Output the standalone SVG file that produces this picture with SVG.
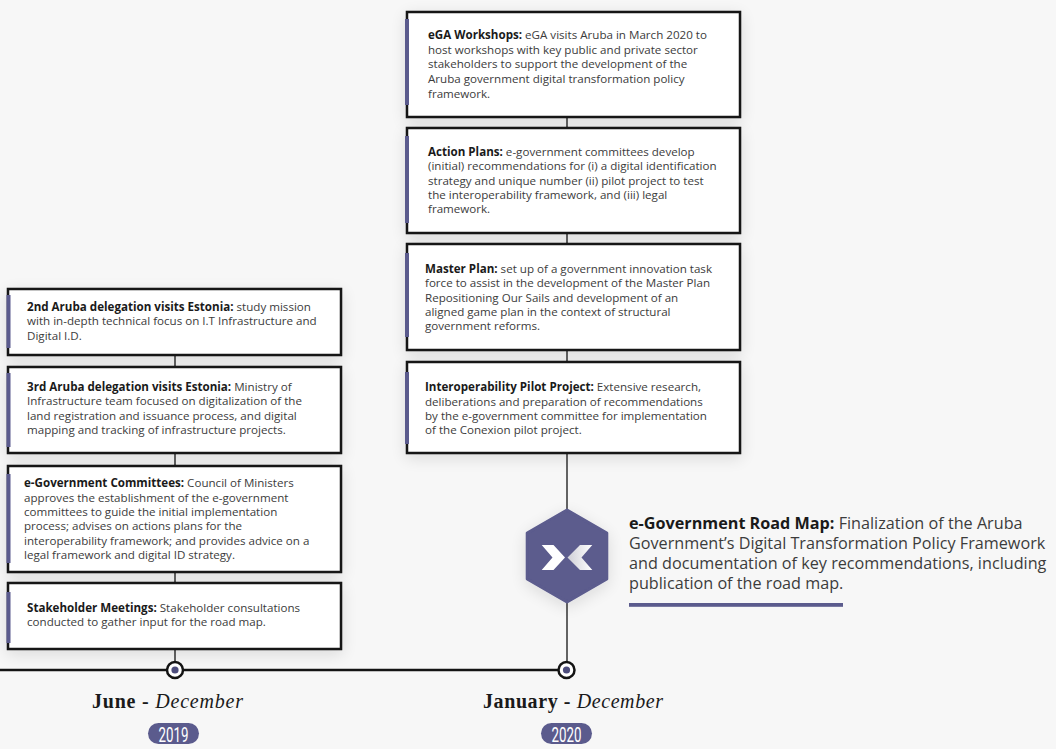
<svg xmlns="http://www.w3.org/2000/svg" width="1056" height="749" viewBox="0 0 1056 749">
<defs>
<filter id="sh" x="-20%" y="-30%" width="140%" height="160%">
<feGaussianBlur in="SourceAlpha" stdDeviation="8"/>
<feOffset dx="0" dy="4" result="o"/>
<feComponentTransfer><feFuncA type="linear" slope="0.12"/></feComponentTransfer>
<feMerge><feMergeNode/><feMergeNode in="SourceGraphic"/></feMerge>
</filter>
<linearGradient id="gr" x1="0" y1="0" x2="1" y2="0">
<stop offset="0" stop-color="#cfcfd6"/>
<stop offset="1" stop-color="#ffffff"/>
</linearGradient>
</defs>
<style>
.box{fill:#fff;stroke:#141414;stroke-width:2.5;filter:url(#sh)}
.bar{fill:#5b5b8d}
.t{font-family:"Open Sans","Liberation Sans",sans-serif;font-size:11.6px;fill:#3c3c3c}
.b{font-weight:700;fill:#1a1a1a}
.c{stroke:#141414;stroke-width:1.3;fill:none}
.tl{stroke:#141414;stroke-width:2.5;fill:none}
.dot{fill:#fff;stroke:#141414;stroke-width:2.5}
.in{fill:#4c4c7c}
.big{font-family:"Open Sans","Liberation Sans",sans-serif;font-size:16.2px;fill:#3c3c3c}
.lab{font-family:"Liberation Serif",serif;font-size:20px;fill:#1a1a1a}
.pill{fill:#5b5b8d}
.yr{font-family:Roboto,"Liberation Sans",sans-serif;font-size:20.5px;fill:#fff}
</style>
<rect x="0" y="0" width="1056" height="749" fill="#f7f7f7"/>

<g id="connectors">
<line class="c" x1="175" y1="355" x2="175" y2="367"/>
<line class="c" x1="175" y1="453" x2="175" y2="466"/>
<line class="c" x1="175" y1="572" x2="175" y2="583"/>
<line class="c" x1="175" y1="649" x2="175" y2="662"/>
<line class="c" x1="567" y1="117" x2="567" y2="128"/>
<line class="c" x1="567" y1="233" x2="567" y2="244"/>
<line class="c" x1="567" y1="350" x2="567" y2="362"/>
<line class="c" x1="567" y1="453" x2="567" y2="511"/>
<line class="c" x1="567" y1="601" x2="567" y2="662"/>
<line class="tl" x1="0" y1="670" x2="566" y2="670"/>
</g>

<g id="box-2nd-delegation">
<rect class="box" x="8" y="289" width="333" height="66"/>
<rect class="bar" x="6.5" y="295" width="4" height="53"/>
<text class="t" x="27" y="311"><tspan class="b">2nd Aruba delegation visits Estonia:</tspan> study mission</text>
<text class="t" x="27" y="325.3">with in-depth technical focus on I.T Infrastructure and</text>
<text class="t" x="27" y="339.8">Digital I.D.</text>
</g>

<g id="box-3rd-delegation">
<rect class="box" x="8" y="367" width="333" height="86"/>
<rect class="bar" x="6.5" y="373" width="4" height="74"/>
<text class="t" x="27" y="391.3"><tspan class="b">3rd Aruba delegation visits Estonia:</tspan> Ministry of</text>
<text class="t" x="27" y="405.3">Infrastructure team focused on digitalization of the</text>
<text class="t" x="27" y="419.8">land registration and issuance process, and digital</text>
<text class="t" x="27" y="434">mapping and tracking of infrastructure projects.</text>
</g>

<g id="box-committees">
<rect class="box" x="8" y="466" width="333" height="106"/>
<rect class="bar" x="6.5" y="474" width="4" height="89"/>
<text class="t" x="24" y="487.3"><tspan class="b">e-Government Committees:</tspan> Council of Ministers</text>
<text class="t" x="24" y="501.6">approves the establishment of the e-government</text>
<text class="t" x="24" y="515.9">committees to guide the initial implementation</text>
<text class="t" x="24" y="530.2">process; advises on actions plans for the</text>
<text class="t" x="24" y="544.5">interoperability framework; and provides advice on a</text>
<text class="t" x="24" y="558.8">legal framework and digital ID strategy.</text>
</g>

<g id="box-stakeholder">
<rect class="box" x="8" y="583" width="333" height="66"/>
<rect class="bar" x="6.5" y="592" width="4" height="51"/>
<text class="t" x="27" y="612.3"><tspan class="b">Stakeholder Meetings:</tspan> Stakeholder consultations</text>
<text class="t" x="27" y="625.8">conducted to gather input for the road map.</text>
</g>

<g id="box-ega">
<rect class="box" x="407" y="12" width="333" height="105"/>
<rect class="bar" x="405" y="19" width="4" height="86"/>
<text class="t" x="428" y="39.3"><tspan class="b">eGA Workshops:</tspan> eGA visits Aruba in March 2020 to</text>
<text class="t" x="428" y="53.8">host workshops with key public and private sector</text>
<text class="t" x="428" y="68.3">stakeholders to support the development of the</text>
<text class="t" x="428" y="82.8">Aruba government digital transformation policy</text>
<text class="t" x="428" y="97.6">framework.</text>
</g>

<g id="box-action">
<rect class="box" x="407" y="128" width="333" height="105"/>
<rect class="bar" x="405" y="136" width="4" height="87"/>
<text class="t" x="428" y="156.3"><tspan class="b">Action Plans:</tspan> e-government committees develop</text>
<text class="t" x="428" y="170.2">(initial) recommendations for (i) a digital identification</text>
<text class="t" x="428" y="184.5">strategy and unique number (ii) pilot project to test</text>
<text class="t" x="428" y="198.7">the interoperability framework, and (iii) legal</text>
<text class="t" x="428" y="213">framework.</text>
</g>

<g id="box-master">
<rect class="box" x="407" y="244" width="333" height="106"/>
<rect class="bar" x="405" y="253" width="4" height="84"/>
<text class="t" x="425" y="273.3"><tspan class="b">Master Plan:</tspan> set up of a government innovation task</text>
<text class="t" x="425" y="287.3">force to assist in the development of the Master Plan</text>
<text class="t" x="425" y="301.5">Repositioning Our Sails and development of an</text>
<text class="t" x="425" y="315.6">aligned game plan in the context of structural</text>
<text class="t" x="425" y="329.8">government reforms.</text>
</g>

<g id="box-pilot">
<rect class="box" x="407" y="362" width="333" height="91"/>
<rect class="bar" x="405" y="372" width="4" height="72"/>
<text class="t" x="425" y="391.3"><tspan class="b">Interoperability Pilot Project:</tspan> Extensive research,</text>
<text class="t" x="425" y="405.5">deliberations and preparation of recommendations</text>
<text class="t" x="425" y="419.8">by the e-government committee for implementation</text>
<text class="t" x="425" y="433.8">of the Conexion pilot project.</text>
</g>

<g id="roadmap">
<path d="M567 510 L606.8 533 L606.8 579 L567 602 L527.2 579 L527.2 533 Z" fill="#5b5b8d" stroke="#5b5b8d" stroke-width="3" stroke-linejoin="round" filter="url(#sh)"/>
<path d="M541.7 545 L553.5 545 L565 557.5 L553.5 570 L541.7 570 L552.5 557.5 Z" fill="#ffffff"/>
<path d="M592.3 545 L580 545 L567.5 557.5 L580 570 L592.3 570 L581.5 557.5 Z" fill="url(#gr)"/>
<text class="big" x="629" y="528.5"><tspan font-weight="700" fill="#1a1a1a">e-Government Road Map:</tspan> Finalization of the Aruba</text>
<text class="big" x="629" y="548.5">Government’s Digital Transformation Policy Framework</text>
<text class="big" x="629" y="568.5">and documentation of key recommendations, including</text>
<text class="big" x="629" y="588.5">publication of the road map.</text>
<rect x="629" y="603" width="214" height="3.8" fill="#5b5b8d"/>
</g>

<g id="year-2019">
<circle class="dot" cx="175" cy="670" r="8"/>
<circle class="in" cx="175" cy="670" r="3.6"/>
<text class="lab" x="92" y="708" textLength="151"><tspan font-weight="700">June - </tspan><tspan font-style="italic">December</tspan></text>
<rect class="pill" x="148" y="723" width="51" height="21" rx="10.5"/>
<text class="yr" x="173.5" y="741.5" text-anchor="middle" textLength="30" lengthAdjust="spacingAndGlyphs">2019</text>
</g>

<g id="year-2020">
<circle class="dot" cx="566.5" cy="670" r="8"/>
<circle class="in" cx="566.5" cy="670" r="3.6"/>
<text class="lab" x="483" y="708" textLength="180"><tspan font-weight="700">January - </tspan><tspan font-style="italic">December</tspan></text>
<rect class="pill" x="541" y="723" width="51" height="21" rx="10.5"/>
<text class="yr" x="566.5" y="741.5" text-anchor="middle" textLength="30" lengthAdjust="spacingAndGlyphs">2020</text>
</g>
</svg>
